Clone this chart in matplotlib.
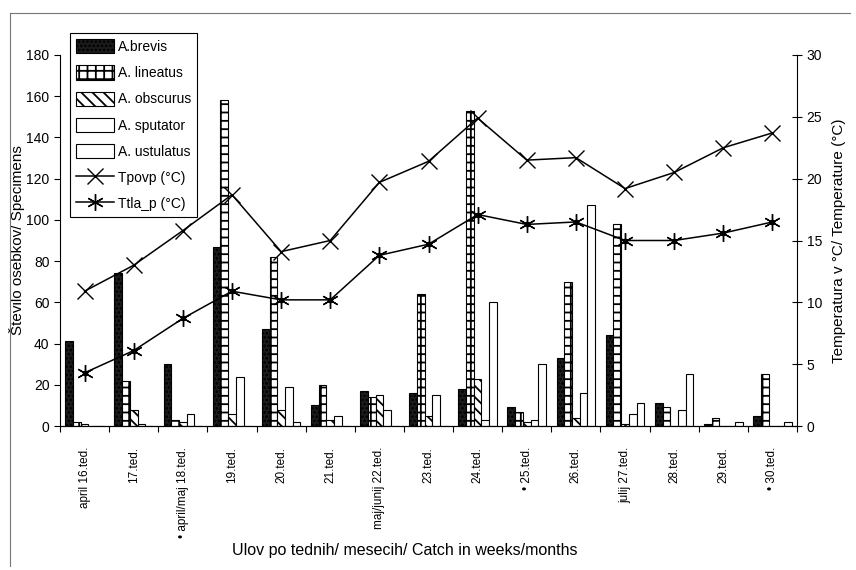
import numpy as np
import matplotlib.pyplot as plt
from matplotlib.patches import Patch
from matplotlib.lines import Line2D

plt.rcParams['font.family'] = ['Liberation Sans Narrow', 'Liberation Sans', 'DejaVu Sans']
plt.rcParams['hatch.linewidth'] = 1.3

weeks = ["april 16.ted.", "17.ted.", "\u2022 april/maj 18.ted.", "19.ted.", "20.ted.",
         "21.ted.", "maj/junij 22.ted.", "23.ted.", "24.ted.", "\u2022 25.ted.",
         "26.ted.", "julij 27.ted.", "28.ted.", "29.ted.", "\u2022 30.ted."]

brevis = [41, 74, 30, 87, 47, 10, 17, 16, 18, 9, 33, 44, 11, 1, 5]
lineatus = [2, 22, 3, 158, 82, 20, 14, 64, 153, 7, 70, 98, 9, 4, 25]
obscurus = [1, 8, 2, 6, 8, 3, 15, 5, 23, 2, 4, 1, 0, 0, 0]
sputator = [0, 1, 6, 24, 19, 5, 8, 15, 3, 3, 16, 6, 8, 0, 0]
ustulatus = [0, 0, 0, 0, 2, 0, 0, 0, 60, 30, 107, 11, 25, 2, 2]

t_povp = [10.9, 13.0, 15.8, 18.7, 14.1, 15.0, 19.7, 21.4, 24.9, 21.5, 21.7, 19.2, 20.5, 22.5, 23.7]
t_tla = [4.3, 6.1, 8.7, 10.9, 10.2, 10.2, 13.8, 14.7, 17.1, 16.3, 16.5, 15.0, 15.0, 15.6, 16.5]

series = [
    ("A.brevis", brevis, dict(facecolor='#1c1c1c', hatch='....', edgecolor='black')),
    ("A. lineatus", lineatus, dict(facecolor='white', hatch='++', edgecolor='black')),
    ("A. obscurus", obscurus, dict(facecolor='white', hatch='\\\\\\', edgecolor='black')),
    ("A. sputator", sputator, dict(facecolor='white', edgecolor='black')),
    ("A. ustulatus", ustulatus, dict(facecolor='white', edgecolor='black')),
]

fig = plt.figure(figsize=(8.56, 5.70), dpi=100)
fig.subplots_adjust(left=60/856, right=797/856, bottom=1-426/570, top=1-55/570)
ax = fig.add_subplot(111)

x = np.arange(len(weeks))
w = 0.157
handles = []
for i, (name, vals, style) in enumerate(series):
    ax.bar(x + (i - 2) * w, vals, w, linewidth=0.8, **style)
    handles.append(Patch(label=name, linewidth=0.8, **style))

ax.set_ylim(0, 180)
ax.set_xlim(-0.5, len(weeks) - 0.5)
ax.set_yticks(np.arange(0, 181, 20))
ax.set_xticks(x)
ax.set_xticklabels(weeks, rotation=90, fontsize=8.5)
ax.tick_params(axis='x', length=0, pad=15)
ax.set_xticks(np.arange(-0.5, len(weeks), 1), minor=True)
ax.tick_params(axis='x', which='minor', length=4, width=0.8, direction='out')
ax.tick_params(axis='y', length=4, width=0.8, labelsize=10, direction='out')
ax.spines['top'].set_visible(False)
ax.spines['right'].set_visible(False)
ax.set_ylabel("\u0160tevilo osebkov/ Specimens", fontsize=11)
ax.yaxis.set_label_coords(-(60 - 25) / 737, 0.5)
fig.text(405/856, 1-550/570, "Ulov po tednih/ mesecih/ Catch in weeks/months",
         fontsize=11.5, ha='center', va='center')

ax2 = ax.twinx()
ax2.plot(x, t_povp, color='black', linewidth=1.1, marker='x', markersize=12, markeredgewidth=1.0)
ax2.plot(x, t_tla, color='black', linewidth=1.1, marker=(6, 2, 0), markersize=12, markeredgewidth=1.0)
ax2.plot(x, t_tla, color='black', linestyle='none', marker='o', markersize=3)
ax2.set_ylim(0, 30)
ax2.set_yticks(np.arange(0, 31, 5))
ax2.tick_params(axis='y', length=7, width=0.8, labelsize=10, direction='inout')
ax2.spines['top'].set_visible(False)
ax2.spines['left'].set_visible(False)
ax2.set_ylabel("Temperatura v \u00b0C/ Temperature (\u00b0C)", fontsize=11)
ax2.yaxis.set_label_coords(1 + (832 - 797) / 737, 0.5)

handles.append(Line2D([], [], color='black', linewidth=1.1, marker='x', markersize=12, label="Tpovp (\u00b0C)"))
handles.append(Line2D([], [], color='black', linewidth=1.1, marker=(6, 2, 0), markersize=12, label="Ttla_p (\u00b0C)"))
leg = ax2.legend(handles=handles, loc='upper left', bbox_to_anchor=(70/856, 1-33/570),
                 bbox_transform=fig.transFigure, fontsize=10, frameon=True, fancybox=False,
                 edgecolor='black', framealpha=1, handlelength=2.7, handleheight=1.2,
                 labelspacing=0.82, borderpad=0.45, handletextpad=0.3, borderaxespad=0)
leg.get_frame().set_linewidth(0.8)

# outer chart border (top and left edge only are visible)
fig.add_artist(Line2D([10/856, 850/856], [1-13/570, 1-13/570], color='#777777', linewidth=0.8))
fig.add_artist(Line2D([10/856, 10/856], [1-13/570, 1-566/570], color='#777777', linewidth=0.8))

fig.savefig("out.png", dpi=100)
